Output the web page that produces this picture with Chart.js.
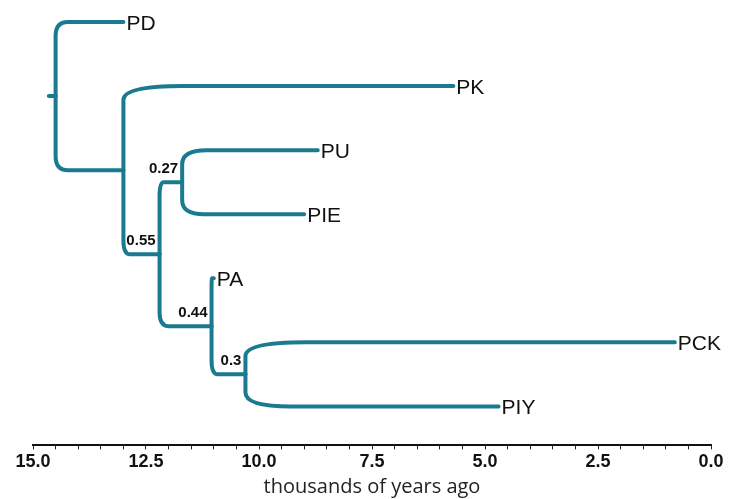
<!DOCTYPE html>
<html>
<head>
<meta charset="utf-8">
<script src="https://cdn.jsdelivr.net/npm/chart.js@4"></script>
<style>
  html, body { margin: 0; padding: 0; background: #fff; }
  #wrap { width: 732px; height: 499px; }
</style>
</head>
<body>
<div id="wrap"><canvas id="tree"></canvas></div>
<script>
// leaves, top to bottom, with their tip ages (thousands of years ago)
const leafNames = ["PD", "PK", "PU", "PIE", "PA", "PCK", "PIY"];
const leafAges = [13.0, 5.7, 8.7, 9.0, 11.0, 0.8, 4.7];

// internal nodes: age of split, children, support value
const nodeNames = ["root", "A", "B", "C", "D", "E"];
const nodeAges = [14.5, 13.0, 12.2, 11.7, 11.05, 10.3];
const nodeChildren = [
  ["PD", "A"],
  ["PK", "B"],
  ["C", "D"],
  ["PU", "PIE"],
  ["PA", "E"],
  ["PCK", "PIY"]
];
const nodeSupport = ["", "", "0.55", "0.27", "0.44", "0.3"];
const rootStemAge = 14.65;

const xTicks = [15.0, 12.5, 10.0, 7.5, 5.0, 2.5, 0.0];

const lineColor = "#1a7b90";

// work out the age / row of every node
const ageOf = {};
const rowOf = {};
leafNames.forEach((name, i) => {
  ageOf[name] = leafAges[i];
  rowOf[name] = i;
});
nodeNames.forEach((name, i) => {
  ageOf[name] = nodeAges[i];
});

function rowFor(name) {
  if (rowOf[name] !== undefined) return rowOf[name];
  const kids = nodeChildren[nodeNames.indexOf(name)];
  rowOf[name] = (rowFor(kids[0]) + rowFor(kids[1])) / 2;
  return rowOf[name];
}
nodeNames.forEach(rowFor);

// one dataset per branch: parent split -> corner -> child
const datasets = [];
datasets.push({
  label: "stem",
  data: [
    { x: rootStemAge, y: rowOf.root },
    { x: ageOf.root, y: rowOf.root }
  ],
  borderColor: lineColor,
  borderWidth: 4,
  showLine: false,
  pointRadius: 0
});
nodeNames.forEach((parent, i) => {
  nodeChildren[i].forEach(child => {
    datasets.push({
      label: parent + "-" + child,
      data: [
        { x: ageOf[parent], y: rowOf[parent] },
        { x: ageOf[parent], y: rowOf[child] },
        { x: ageOf[child], y: rowOf[child] }
      ],
      borderColor: lineColor,
      borderWidth: 4,
      showLine: false,
      pointRadius: 0
    });
  });
});

// draws the branches with rounded elbows plus the text labels
const treePlugin = {
  id: "treeBranches",
  afterDatasetsDraw(chart) {
    const ctx = chart.ctx;
    const xs = chart.scales.x;
    const ys = chart.scales.y;
    ctx.save();
    chart.data.datasets.forEach((ds, di) => {
      const pts = chart.getDatasetMeta(di).data;
      ctx.beginPath();
      ctx.strokeStyle = ds.borderColor;
      ctx.lineWidth = ds.borderWidth;
      ctx.lineCap = "round";
      ctx.lineJoin = "round";
      ctx.moveTo(pts[0].x, pts[0].y);
      if (pts.length === 3) {
        const p1 = pts[1], p2 = pts[2];
        const dy = p1.y - pts[0].y;
        const dx = p2.x - p1.x;
        const ry = Math.min(14, Math.abs(dy) / 2);
        const rx = Math.min(60, Math.abs(dx) * 0.18);
        ctx.lineTo(p1.x, p1.y - Math.sign(dy) * ry);
        ctx.quadraticCurveTo(p1.x, p1.y, p1.x + Math.sign(dx) * rx, p1.y);
        ctx.lineTo(p2.x, p2.y);
      } else {
        ctx.lineTo(pts[1].x, pts[1].y);
      }
      ctx.stroke();
    });

    // tip names
    ctx.fillStyle = "#111";
    ctx.font = "21px 'Liberation Sans', Arial, sans-serif";
    ctx.textAlign = "left";
    ctx.textBaseline = "alphabetic";
    leafNames.forEach((name, i) => {
      const px = xs.getPixelForValue(leafAges[i]);
      const py = ys.getPixelForValue(i);
      ctx.fillText(name, px + 3, py + 8);
    });

    // support values
    ctx.font = "bold 15px 'Liberation Sans', Arial, sans-serif";
    ctx.textAlign = "right";
    nodeNames.forEach((name, i) => {
      if (!nodeSupport[i]) return;
      const px = xs.getPixelForValue(nodeAges[i]);
      const py = ys.getPixelForValue(rowOf[name]);
      ctx.fillText(nodeSupport[i], px - 4, py - 9);
    });
    ctx.restore();
  }
};

new Chart(document.getElementById("tree"), {
  type: "scatter",
  data: { datasets: datasets },
  options: {
    responsive: true,
    maintainAspectRatio: false,
    animation: false,
    layout: { padding: { left: 33, right: 21, top: 0, bottom: 0 } },
    plugins: {
      legend: { display: false },
      tooltip: { enabled: false }
    },
    scales: {
      x: {
        type: "linear",
        reverse: true,
        min: 0,
        max: 15,
        grid: {
          drawOnChartArea: false,
          drawTicks: true,
          tickLength: 4,
          color: "#222"
        },
        border: { display: true, color: "#111", width: 2 },
        ticks: {
          stepSize: 0.5,
          autoSkip: false,
          maxRotation: 0,
          padding: 2,
          color: "#111",
          font: { family: "'Liberation Sans', Arial, sans-serif", size: 18, weight: "bold" },
          callback: v => (xTicks.includes(v) ? v.toFixed(1) : "")
        },
        title: {
          display: true,
          text: "thousands of years ago",
          color: "#222",
          font: { family: "'Open Sans', sans-serif", size: 20 },
          padding: { top: 0, bottom: 0 }
        }
      },
      y: {
        type: "linear",
        display: false,
        reverse: true,
        min: -0.344,
        max: 6.609
      }
    }
  },
  plugins: [treePlugin]
});
</script>
</body>
</html>
